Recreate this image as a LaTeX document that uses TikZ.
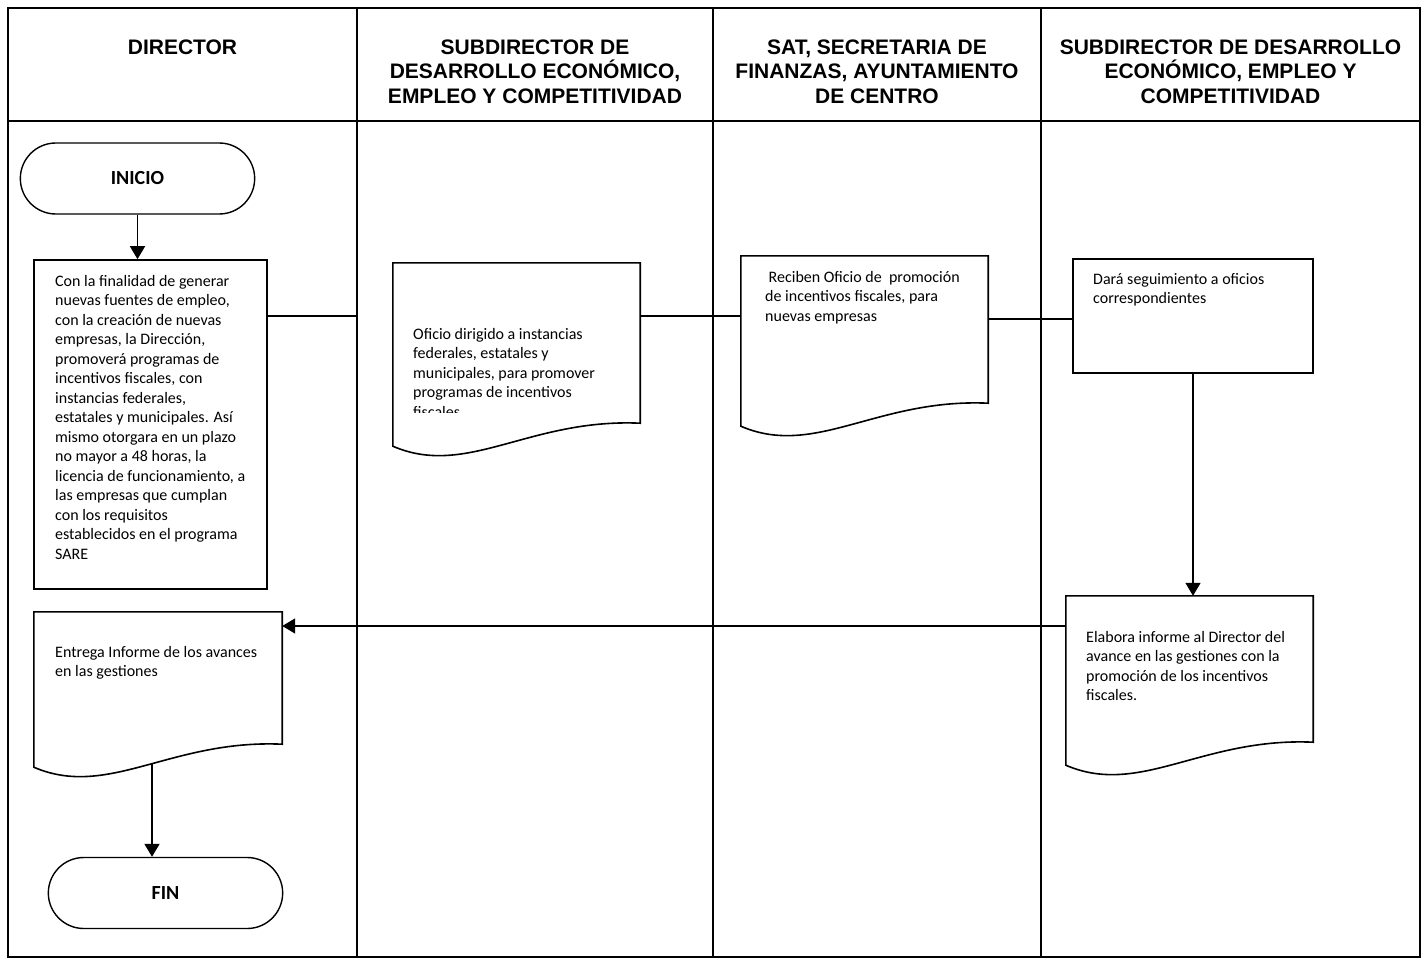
\documentclass[tikz,border=0pt]{standalone}
\usepackage{fontspec}
\setmainfont{Carlito}
\newfontfamily\hdfont{Liberation Sans}
\usetikzlibrary{arrows.meta,calc,shapes.misc}

\begin{document}
\begin{tikzpicture}[
			x=1pt, y=-1pt,
			frame/.style = {line width=2pt},
			proc/.style = {draw, rectangle, line width=1.6pt, inner sep=0pt},
			doc/.style = {rectangle, inner sep=0pt},
			term/.style = {draw, rounded rectangle, line width=1.4pt, minimum width=241pt, minimum height=71pt, font=\bfseries\fontsize{20}{24}\selectfont},
			txt/.style = {anchor=north west, inner sep=0pt, align=left, font=\fontsize{16}{19.5}\selectfont},
			hd/.style = {anchor=north, inner sep=0pt, align=center, font=\hdfont\bfseries\fontsize{21}{24.5}\selectfont},
			link/.style = {line width=1.6pt},
			arr/.style = {line width=1.6pt, -{Triangle[length=13pt,width=15pt]}},
			]
			\useasboundingbox (0,0) rectangle (1424,960);
			\draw[frame] (8,8) rectangle (1420,957);
			\draw[frame] (8,121) -- (1420,121);
			\foreach \x in {357,713,1041}
				\draw[frame] (\x,8) -- (\x,957);
			\node[hd] (h1) at (182.5,39.5) {DIRECTOR};
			\node[hd] (h2) at (535,39.5) {SUBDIRECTOR DE\\DESARROLLO ECONÓMICO,\\EMPLEO Y COMPETITIVIDAD};
			\node[hd] (h3) at (877,39.5) {SAT, SECRETARIA DE\\FINANZAS, AYUNTAMIENTO\\DE CENTRO};
			\node[hd] (h4) at (1230.5,39.5) {SUBDIRECTOR DE DESARROLLO\\ECONÓMICO, EMPLEO Y\\COMPETITIVIDAD};
			% shapes
			\node[term] (ini) at (137.5,178.5) {INICIO};
			\node[proc, minimum width=233pt, minimum height=329pt] (prom) at (150.5,424.5) {};
			\node[doc, minimum width=247pt, minimum height=160pt] (ofi) at (516.5,343) {};
			\node[doc, minimum width=247pt, minimum height=147pt] (rec) at (864.5,329.5) {};
			\node[proc, minimum width=240pt, minimum height=114pt] (seg) at (1193,316) {};
			\node[doc, minimum width=247pt, minimum height=146pt] (ela) at (1189.5,669) {};
			\node[doc, minimum width=248pt, minimum height=132pt] (ent) at (158,678) {};
			\node[term] (fin) at (165.5,893) {FIN};
			\foreach \n in {ofi,rec,ela,ent}
				\draw[link] (\n.north west) -- (\n.north east) -- (\n.south east)
					.. controls ($(\n.south west)!.55!(\n.south east)+(0,-5)$) and ($(\n.south west)!.3!(\n.south east)+(0,55)$) .. ($(\n.south west)+(0,23)$) -- cycle;
			% texts
			\node[txt] (prom-t) at (55,275) {Con la finalidad de generar\\nuevas fuentes de empleo,\\con la creación de nuevas\\empresas, la Dirección,\\promoverá programas de\\incentivos fiscales, con\\instancias federales,\\estatales y municipales. Así\\mismo otorgara en un plazo\\no mayor a 48 horas, la\\licencia de funcionamiento, a\\las empresas que cumplan\\con los requisitos\\establecidos en el programa\\SARE};
			\begin{scope}
				\clip (ofi.north west) rectangle ($(ofi.south east)+(0,-11)$);
				\node[txt] (ofi-t) at (413,328) {Oficio dirigido a instancias\\federales, estatales y\\municipales, para promover\\programas de incentivos\\fiscales};
			\end{scope}
			\node[txt] (rec-t) at (765,271) {\hspace{3.5pt}Reciben Oficio de\ \ promoción\\de incentivos fiscales, para\\nuevas empresas};
			\node[txt] (seg-t) at (1093,273) {Dará seguimiento a oficios\\correspondientes};
			\node[txt] (ela-t) at (1086,631) {Elabora informe al Director del\\avance en las gestiones con la\\promoción de los incentivos\\fiscales.};
			\node[txt] (ent-t) at (55,646) {Entrega Informe de los avances\\en las gestiones};
			% connectors
			\coordinate (d1) at (357,316);
			\coordinate (w) at (152,763);
			\draw[arr] (ini.south) -- (ini.south |- prom.north);
			\draw[link] (prom.east |- d1) -- (d1);
			\draw[link] (ofi.east |- d1) -- (rec.west |- d1);
			\draw[link] (rec.east |- 0,319) -- (seg.west |- 0,319);
			\draw[arr] (seg.south) -- (seg.south |- ela.north);
			\draw[arr] (ela.west |- 0,626) -- (ent.east |- 0,626);
			\draw[arr] (w) -- (w |- fin.north);
		\end{tikzpicture}
\end{document}
